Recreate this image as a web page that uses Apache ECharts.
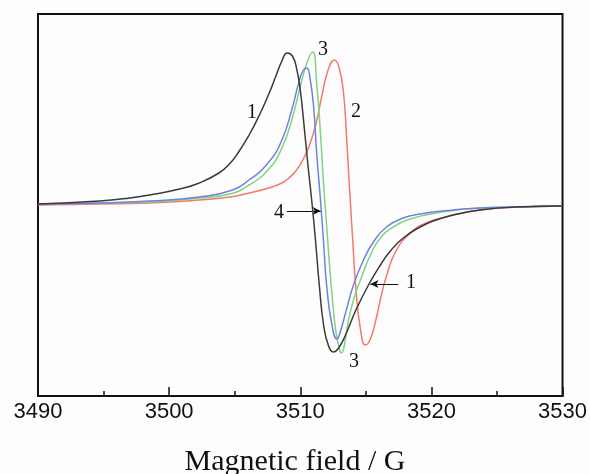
<!DOCTYPE html>
<html>
<head>
<meta charset="utf-8">
<script src="https://cdn.jsdelivr.net/npm/echarts@6/dist/echarts.min.js"></script>
<style>html,body{margin:0;padding:0;background:#fdfdfe;}#c{width:590px;height:474px;}</style>
</head>
<body>
<div id="c"></div>
<script>
// Magnetic field (G) vs. EPR derivative signal (arb. units)
const curve1 = [[3490,1],[3494.7,4],[3497.0,7],[3498.5,10],[3500.8,16],[3502.3,22],[3503.8,32],[3504.6,41],[3505.3,53],[3506.1,70],[3506.85,89],[3507.6,111],[3508.2,131],[3508.6,144],[3509.0,152],[3509.4,149],[3509.73,136],[3510.0,115],[3510.27,82],[3510.6,38],[3510.87,5],[3511.18,-38],[3511.45,-80],[3511.78,-120],[3512.16,-141],[3512.54,-147],[3512.92,-143],[3513.45,-130],[3514.21,-106],[3515.2,-80],[3516.11,-60],[3516.87,-46],[3517.85,-33],[3519.14,-22],[3520.36,-15],[3521.65,-10],[3523.7,-5],[3526.36,-2],[3529.92,-1]];
const curve2 = [[3490,0],[3494.7,1],[3498.5,2],[3502.3,5],[3504.6,8],[3506.1,12],[3507.6,17],[3508.6,22],[3509.13,27],[3509.66,34],[3510.2,45],[3510.7,60],[3511.18,80],[3511.63,108],[3512.1,134],[3512.6,145],[3512.95,138],[3513.3,112],[3513.53,68],[3513.75,18],[3514.0,-35],[3514.25,-85],[3514.6,-125],[3514.97,-140],[3515.35,-134],[3515.8,-113],[3516.1,-95],[3516.6,-70],[3517.3,-46],[3518.4,-28],[3519.6,-18],[3521.1,-12],[3523.7,-5],[3527.0,-2],[3529.92,-1]];
const curve3 = [[3490,1],[3494.7,2],[3498.5,3],[3502.3,7],[3504.6,11],[3506.1,20],[3507.6,36],[3508.6,57],[3509.35,85],[3509.9,113],[3510.5,142],[3510.95,153],[3511.25,122],[3511.56,68],[3511.78,20],[3511.98,-15],[3512.16,-48],[3512.39,-85],[3512.69,-124],[3513.0,-145],[3513.15,-148],[3513.35,-141],[3513.68,-115],[3514.1,-93],[3514.59,-75],[3515.35,-50],[3516.11,-33],[3517.1,-22],[3518.4,-14],[3520.36,-8],[3523.7,-3],[3527.0,-2],[3529.92,-1]];
const curve4 = [[3490,1],[3494.7,2],[3498.5,4],[3502.3,8],[3504.6,14],[3506.1,25],[3507.6,43],[3508.6,65],[3509.35,95],[3509.9,123],[3510.2,134],[3510.5,137],[3510.75,126],[3511.02,98],[3511.25,52],[3511.56,2],[3511.78,-38],[3512.01,-80],[3512.39,-118],[3512.8,-134],[3513.05,-127],[3513.45,-108],[3514.06,-80],[3514.82,-55],[3515.58,-37],[3516.57,-22],[3517.85,-13],[3519.14,-9],[3521.65,-5],[3523.7,-3],[3526.6,-2],[3529.92,-1]];
const xTicks = [3490, 3500, 3510, 3520, 3530];
const seriesNames = ['1', '2', '3', '4'];
const seriesColors = ['#3a3a3a', '#f27a68', '#7fd47f', '#6f82e2'];
const axisTitle = 'Magnetic field / G';

const chart = echarts.init(document.getElementById('c'), null, {renderer: 'canvas'});
const lineSeries = [curve1, curve2, curve3, curve4].map((d, i) => ({
  name: seriesNames[i], type: 'line', data: d, showSymbol: false, smooth: 0.5,
  lineStyle: {color: seriesColors[i], width: 1.5}, z: i === 0 ? 5 : 3
}));
lineSeries[0].markLine = {
  silent: true, symbol: ['none', 'arrow'], symbolSize: [6, 8],
  label: {show: false},
  lineStyle: {color: '#111', width: 1, type: 'solid'},
  data: [
    [{coord: [3508.98, -6]}, {coord: [3511.56, -6]}],
    [{coord: [3517.48, -79]}, {coord: [3515.35, -79]}]
  ]
};
chart.setOption({
  backgroundColor: '#fdfdfe',
  animation: false,
  grid: {left: 38, right: 26, top: 14, bottom: 78, show: true, borderColor: '#111', borderWidth: 2, backgroundColor: 'transparent'},
  xAxis: {
    type: 'value', min: xTicks[0], max: xTicks[xTicks.length - 1], interval: 10,
    axisLine: {onZero: false, lineStyle: {color: '#111', width: 2}},
    axisTick: {inside: true, length: 9, lineStyle: {color: '#111', width: 1.5}},
    minorTick: {show: true, splitNumber: 2, length: 5, lineStyle: {color: '#111', width: 1.5}},
    splitLine: {show: false},
    axisLabel: {fontFamily: 'Liberation Sans', fontSize: 22, color: '#111', margin: 5, formatter: v => String(v)}
  },
  yAxis: {
    type: 'value', min: -191, max: 191,
    axisLine: {show: true, onZero: false, lineStyle: {color: '#111', width: 2}},
    axisTick: {show: false}, axisLabel: {show: false}, splitLine: {show: false}
  },
  series: lineSeries,
  graphic: [
    {type: 'text', left: 'center', top: 447, style: {text: axisTitle, font: '30px "Liberation Serif"', fill: '#111'}},
    {type: 'text', x: 252, y: 113, style: {text: '1', font: '20px "Liberation Serif"', fill: '#111', align: 'center', verticalAlign: 'middle'}},
    {type: 'text', x: 356, y: 112, style: {text: '2', font: '20px "Liberation Serif"', fill: '#111', align: 'center', verticalAlign: 'middle'}},
    {type: 'text', x: 323, y: 50, style: {text: '3', font: '20px "Liberation Serif"', fill: '#111', align: 'center', verticalAlign: 'middle'}},
    {type: 'text', x: 354, y: 362, style: {text: '3', font: '20px "Liberation Serif"', fill: '#111', align: 'center', verticalAlign: 'middle'}},
    {type: 'text', x: 279, y: 213, style: {text: '4', font: '20px "Liberation Serif"', fill: '#111', align: 'center', verticalAlign: 'middle'}},
    {type: 'text', x: 411, y: 283, style: {text: '1', font: '20px "Liberation Serif"', fill: '#111', align: 'center', verticalAlign: 'middle'}}
  ]
});
</script>
</body>
</html>
